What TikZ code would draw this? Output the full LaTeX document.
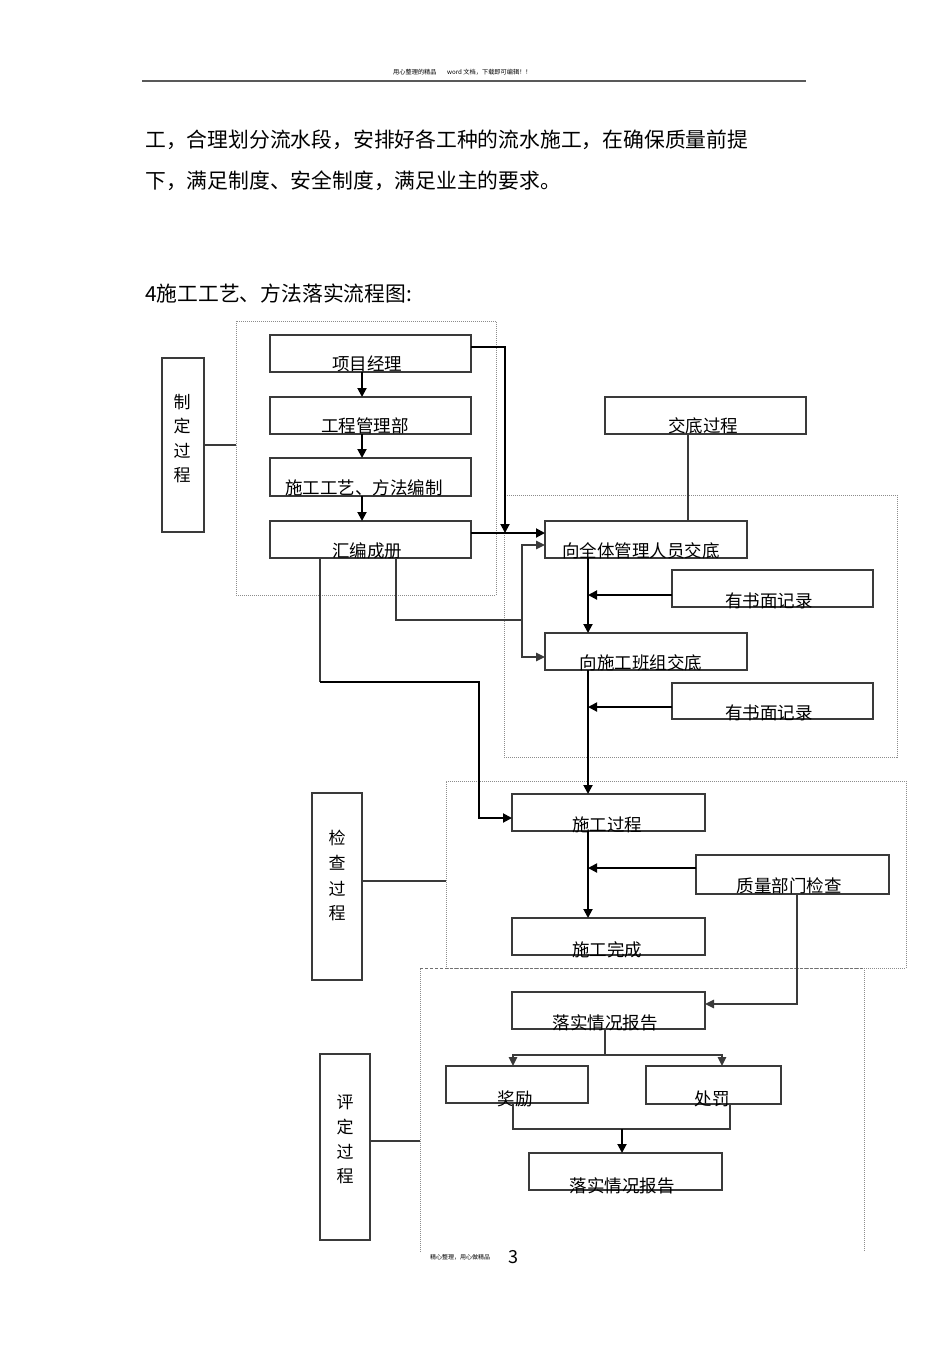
\documentclass[tikz,border=0pt]{standalone}
\usepackage{fontspec}
\setmainfont{Noto Sans CJK SC}
\usetikzlibrary{arrows.meta,fit}
\definecolor{bline}{HTML}{3A3A3A}
\definecolor{dline}{HTML}{8C8C8C}
\begin{document}
\begin{tikzpicture}[x=1pt,y=-1pt,
  box/.style={draw=bline, line width=1.3pt, inner sep=0pt, outer sep=0pt, rectangle},
  grp/.style={draw=dline, line width=1pt, densely dotted, inner sep=0pt, outer sep=0pt, rectangle},
  lbl/.style={font=\fontsize{17.5}{20}\selectfont, inner sep=0pt, text height=14.5pt, text depth=1.2pt},
  sidech/.style={font=\fontsize{17}{20}\selectfont, inner sep=0pt, text height=14.1pt, text depth=1.2pt},
  body/.style={font=\fontsize{20.8}{24}\selectfont, inner sep=0pt, anchor=west, text height=17.3pt, text depth=1.5pt},
  tiny/.style={font=\fontsize{6.2}{7}\selectfont, inner sep=0pt, anchor=west, text height=5.1pt, text depth=0.5pt},
  lnT/.style={draw=black, line width=1.9pt},
  arrT/.style={lnT, -{Triangle[length=9pt,width=9pt]}},
  lnS/.style={draw=bline, line width=1.4pt},
  arrS/.style={lnS, -{Triangle[length=9pt,width=8.5pt]}},
  thick top/.style={draw=bline, line width=2.6pt},
]
\useasboundingbox (0,0) rectangle (950,1345);

% header / footer
\node[tiny] (hdrA) at (393,72) {用心整理的精品};
\node[tiny] (hdrB) at (447,72) {word 文档，下载即可编辑！！};
\draw[gray!70!black, line width=1.8pt] (142,81) -- (806,81);
\node[tiny, font=\fontsize{6}{7}\selectfont] (ftA) at (430,1257) {精心整理，用心做精品};
\node[font=\fontsize{18}{20}\selectfont, inner sep=0pt] (ftB) at (513,1257) {3};

% body text
\node[body] (p1) at (145,140) {工，合理划分流水段，安排好各工种的流水施工，在确保质量前提};
\node[body] (p2) at (145,181) {下，满足制度、安全制度，满足业主的要求。};
\node[body] (p3) at (145,294) {4施工工艺、方法落实流程图:};

% dotted groups
\node[grp, fit={(236,321) (496,595)}] (g1) {};
\node[grp, fit={(504,495) (897,757)}] (g2) {};
\node[grp, fit={(446,781) (906,968)}] (g3) {};
\coordinate (g4sw) at (420,1252);
\coordinate (g4nw) at (420,968);
\coordinate (g4ne) at (864,968);
\coordinate (g4se) at (864,1252);
\draw[draw=dline, line width=1pt, densely dotted] (g4sw) -- (g4nw);
\draw[draw=dline, line width=1pt, densely dotted] (g4ne) -- (g4se);
\draw[draw=dline!80!black, line width=1pt, dash pattern=on 3pt off 2pt] (g4nw) -- (g4ne);

% side boxes
\node[box, fit={(162,358) (204,532)}] (zd) {};
\node[box, fit={(312,793) (362,980)}] (jc) {};
\node[box, fit={(320,1054) (370,1240)}] (pd) {};
\foreach \c/\y [count=\i] in {制/402,定/426.5,过/451,程/475.5}
  \node[sidech] (zd\i) at (182,\y) {\c};
\foreach \c/\y [count=\i] in {检/838,查/863.5,过/889,程/913.5}
  \node[sidech] (jc\i) at (337,\y) {\c};
\foreach \c/\y [count=\i] in {评/1102,定/1127,过/1152,程/1176}
  \node[sidech] (pd\i) at (345,\y) {\c};

% process boxes
\node[box, fit={(270,335) (471,372)}] (xm) {};
\node[box, fit={(270,397) (471,434)}] (gc) {};
\node[box, fit={(270,458) (471,496)}] (sg) {};
\node[box, fit={(270,521) (471,558)}] (hb) {};
\node[box, fit={(605,397) (806,434)}] (jd) {};
\node[box, fit={(545,521) (747,558)}, line width=1.8pt] (qt) {};
\node[box, fit={(672,570) (873,607)}] (s1) {};
\node[box, fit={(545,633) (747,670)}] (bz) {};
\node[box, fit={(672,683) (873,719)}] (s2) {};
\node[box, fit={(512,794) (705,831)}] (sgc) {};
\node[box, fit={(696,855) (889,894)}] (zl) {};
\node[box, fit={(512,918) (705,955)}] (wc) {};
\node[box, fit={(512,992) (705,1029)}] (lr1) {};
\node[box, fit={(446,1066) (588,1103)}] (jl) {};
\node[box, fit={(646,1066) (781,1104)}] (cf) {};
\node[box, fit={(529,1153) (722,1190)}] (lr2) {};

\draw[thick top] (gc.north west) -- (gc.north east);
\draw[thick top] (hb.north west) -- (hb.north east);
\draw[thick top] (jd.north west) -- (jd.north east);
\draw[thick top] (qt.north west) -- (qt.north east);
\draw[thick top] (zl.south west) -- (zl.south east);

% labels
\node[lbl] (xmT) at (367,364) {项目经理};
\node[lbl] (gcT) at (365,426) {工程管理部};
\node[lbl] (sgT) at (364,488) {施工工艺、方法编制};
\node[lbl] (hbT) at (367,551) {汇编成册};
\node[lbl] (jdT) at (703,426) {交底过程};
\node[lbl] (qtT) at (641,551) {向全体管理人员交底};
\node[lbl] (s1T) at (769,601) {有书面记录};
\node[lbl] (bzT) at (641,663) {向施工班组交底};
\node[lbl] (s2T) at (769,713) {有书面记录};
\node[lbl] (sgcT) at (607,825) {施工过程};
\node[lbl] (zlT) at (789,886) {质量部门检查};
\node[lbl] (wcT) at (607,950) {施工完成};
\node[lbl] (lr1T) at (605,1023) {落实情况报告};
\node[lbl] (jlT) at (515,1099) {奖励};
\node[lbl] (cfT) at (712,1099) {处罚};
\node[lbl] (lr2T) at (622,1186) {落实情况报告};

% helper coordinates
\coordinate (c362) at (362,0);
\coordinate (c505) at (505,347);
\coordinate (y533) at (0,533);
\coordinate (b1) at (396,620);
\coordinate (b2) at (522,620);
\coordinate (b3) at (320,682);
\coordinate (b4) at (479,682);
\coordinate (c688) at (688,0);
\coordinate (c588) at (588,0);
\coordinate (c797) at (797,1004);
\coordinate (d1) at (605,1055);
\coordinate (c513) at (513,0);
\coordinate (c722) at (722,0);
\coordinate (e1) at (513,1129);
\coordinate (e2) at (730,1129);
\coordinate (e3) at (622,1129);

% top column
\draw[arrT] (xm.south -| c362) -- (gc.north -| c362);
\draw[arrT] (gc.south -| c362) -- (sg.north -| c362);
\draw[arrT] (sg.south -| c362) -- (hb.north -| c362);
\draw[arrT] (xm.east |- c505) -- (c505) -- (c505 |- y533);
\draw[arrT] (hb.east |- y533) -- (qt.west |- y533);
\draw[lnS] (hb.south -| b1) -- (b1) -- (b2);
\draw[arrS] (b2) |- ([yshift=-5.5pt]qt.west);
\draw[arrS] (b2) |- ([yshift=-5.5pt]bz.west);
\draw[lnS] (hb.south -| b3) -- (b3);
\draw[arrT] (b3) -- (b4) |- ([yshift=-5.5pt]sgc.west);

% side links
\draw[lnS] (zd.east) -- (zd.east -| g1.west);
\draw[lnS] ([yshift=5.5pt]jc.east) -- ([yshift=5.5pt]jc.east -| g3.west);
\draw[bline, line width=2pt] ([yshift=6pt]pd.east) -- ([yshift=6pt]pd.east -| g4nw);

% briefing section
\draw[lnS] (jd.south -| c688) -- (qt.north -| c688);
\draw[arrT] (qt.south -| c588) -- (bz.north -| c588);
\coordinate (a1) at ([yshift=-6.5pt]s1.west);
\draw[arrT] (a1) -- (a1 -| c588);
\draw[arrT] (bz.south -| c588) -- (sgc.north -| c588);
\coordinate (a2) at ([yshift=-6pt]s2.west);
\draw[arrT] (a2) -- (a2 -| c588);

% check section
\draw[arrT] (sgc.south -| c588) -- (wc.north -| c588);
\coordinate (a3) at ([yshift=6.5pt]zl.west);
\draw[arrT] (a3) -- (a3 -| c588);
\draw[arrS] (zl.south -| c797) -- (c797) -- (c797 -| lr1.east);

% evaluation section
\draw[lnS] (lr1.south -| d1) -- (d1);
\draw[arrS] (d1) -- (d1 -| c513) -- (jl.north -| c513);
\draw[arrS] (d1) -- (d1 -| c722) -- (cf.north -| c722);
\draw[lnS] (jl.south -| e1) -- (e1) -- (e2) -- (cf.south -| e2);
\draw[arrT] (e3) -- (lr2.north -| e3);

\end{tikzpicture}
\end{document}
